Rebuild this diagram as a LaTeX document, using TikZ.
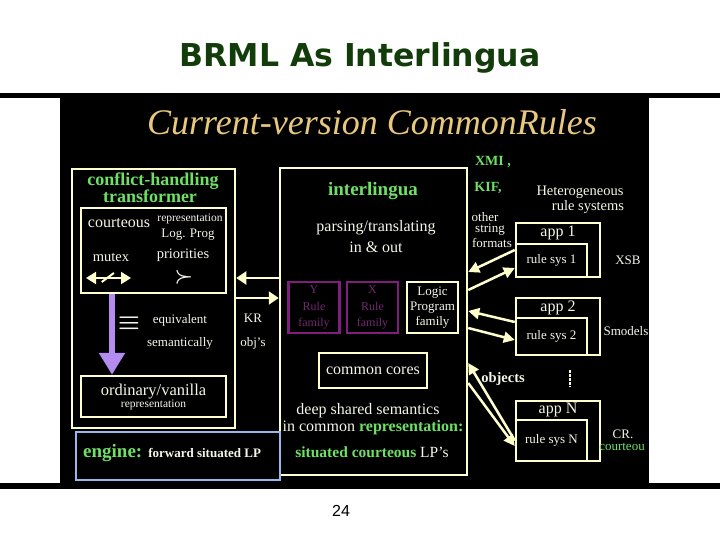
\documentclass[tikz,border=0pt]{standalone}
\usepackage{fontspec}
\setmainfont{Liberation Serif}
\newfontfamily\slidefont{DejaVu Sans}
\newfontfamily\numfont{Liberation Sans}
\usepackage{xcolor}
\definecolor{creamline}{RGB}{255,255,205}
\definecolor{creamtext}{RGB}{245,245,232}
\definecolor{leafgreen}{RGB}{110,225,100}
\definecolor{titlegold}{RGB}{232,200,125}
\definecolor{rulepurple}{RGB}{128,30,128}
\definecolor{rulepurpletext}{RGB}{115,40,115}
\definecolor{lavender}{RGB}{180,140,240}
\definecolor{skyblue}{RGB}{150,185,235}
\definecolor{slidegreen}{RGB}{18,60,10}
\usetikzlibrary{arrows.meta,calc}

\begin{document}
\begin{tikzpicture}[x=1pt, y=-1pt,
  wtxt/.style={text=creamtext, inner sep=0pt},
  gtxt/.style={text=leafgreen, inner sep=0pt},
  sz/.style={font=\fontsize{#1}{#1}\selectfont},
  crbox/.style={draw=creamline, line width=2.5pt, inner sep=0pt, text=creamtext},
  rulebox/.style={draw=rulepurple, line width=2.5pt, inner sep=0pt,
                  minimum width=51, minimum height=51, align=center,
                  text=rulepurpletext, font=\fontsize{12}{16.5}\selectfont},
  crarr/.style={draw=creamline, line width=2.5pt, -{Triangle[length=11pt, width=11pt]}},
  stripArr/.style={draw=creamline, line width=2pt, -{Triangle[length=10pt, width=13pt]}}
]

%% slide and picture frame
\useasboundingbox (0,0) rectangle (720,540);
\fill[white] (0,0) rectangle (720,540);
\fill[black] (0,93) rectangle (720,98);
\fill[black] (0,483) rectangle (720,489);
\fill[black] (60,97) rectangle (649,486);
\fill[white] (649,98) rectangle (654,483);

\node[text=slidegreen, font=\slidefont\bfseries\fontsize{31.5}{31.5}\selectfont] (slidetitle) at (360,58) {BRML As Interlingua};
\node[font=\numfont\fontsize{16}{16}\selectfont] (pagenum) at (341,511) {24};

\node[text=titlegold, inner sep=0pt, font=\fontsize{36}{36}\selectfont\itshape] (crtitle) at (372,122) {Current-version CommonRules};

%% boxes
\node[crbox, minimum width=163, minimum height=259] (trans)   at (153.5,298.5) {};
\node[crbox, minimum width=145, minimum height=85]  (transin) at (153.5,250.5) {};
\node[crbox, minimum width=145, minimum height=41, align=center] (vanilla) at (153.5,396.5)
  {\fontsize{16.5}{15}\selectfont ordinary/vanilla\\[0pt]\fontsize{11.5}{12}\selectfont representation};
\node[crbox, minimum width=187, minimum height=307] (interl)  at (373.5,321.5) {};
\node[draw=skyblue, line width=2.5pt, minimum width=204, minimum height=48] (engine) at (178,456) {};

\node[rulebox] (yrule) at (314,307.5) {Y\\Rule\\family};
\node[rulebox] (xrule) at (372.5,307.5) {X\\Rule\\family};
\node[crbox, minimum width=51, minimum height=51, align=center,
      font=\fontsize{13}{15}\selectfont] (logic) at (432.5,307.5) {Logic\\Program\\family};
\node[crbox, minimum width=108, minimum height=35, font=\fontsize{16}{16}\selectfont] (cores) at (373,370.5) {common cores};

\node[crbox, minimum width=84, minimum height=54] (app1) at (558,250) {};
\node[crbox, minimum width=71, minimum height=33, font=\fontsize{13}{13}\selectfont] (rs1) at (551.5,260.5) {rule sys 1};
\node[crbox, minimum width=84, minimum height=57] (app2) at (558,326.5) {};
\node[crbox, minimum width=71, minimum height=37, font=\fontsize{13}{13}\selectfont] (rs2) at (551.5,336.5) {rule sys 2};
\node[crbox, minimum width=84, minimum height=60] (appN) at (558,431) {};
\node[crbox, minimum width=71, minimum height=41, font=\fontsize{13}{13}\selectfont] (rsN) at (551.5,440.5) {rule sys N};

%% transformer texts
\node[gtxt, sz=18] (transT1) at (153,181) {\bfseries conflict-handling};
\node[gtxt, sz=18] (transT2) at (150,196) {\bfseries transformer};
\node[wtxt, sz=16]   (court) at (119,223) {courteous};
\node[wtxt, sz=11.5] (repr1) at (190,219) {representation};
\node[wtxt, sz=13]   (logp)  at (188,235) {Log. Prog};
\node[wtxt, sz=14.5] (mutex) at (111,257) {mutex};
\node[wtxt, sz=14.5] (prio)  at (183,255) {priorities};
\node[wtxt, font=\fontsize{20}{20}\selectfont\boldmath] (succ) at (184,277) {$\succ$};
\node[wtxt, font=\fontsize{24}{24}\selectfont\boldmath] (equiv) at (129,323) {$\equiv$};
\node[wtxt, sz=13] (eqv)  at (180,320) {equivalent};
\node[wtxt, sz=13] (sem)  at (180,343) {semantically};
\node[wtxt, sz=13] (kr)   at (253,318) {KR};
\node[wtxt, sz=13] (objs) at (253,343) {obj's};
\node[inner sep=0pt, anchor=west] (engtxt) at (83,453)
  {\fontsize{19}{19}\selectfont\bfseries\textcolor{leafgreen}{engine:}\hspace{6pt}\fontsize{13}{13}\selectfont\textcolor{creamtext}{forward situated LP}};

%% interlingua texts
\node[gtxt, sz=19] (iltitle) at (373,191) {\bfseries interlingua};
\node[wtxt, sz=16] (parse) at (376,228) {parsing/translating};
\node[wtxt, sz=16] (inout) at (376,247) {in \& out};
\node[wtxt, sz=16] (deep)  at (368,411) {deep shared semantics};
\node[wtxt, sz=16] (incom) at (373,428) {in common \textcolor{leafgreen}{\bfseries representation:}};
\node[wtxt, sz=15.5] (sitc) at (372,452) {\textcolor{leafgreen}{\bfseries situated courteous} LP's};

%% right side texts
\node[gtxt, sz=14] (xmi) at (493,162) {\bfseries XMI ,};
\node[gtxt, sz=14] (kif) at (488,188) {\bfseries KIF,};
\node[wtxt, sz=14.5] (het1) at (580,192) {Heterogeneous};
\node[wtxt, sz=14.5] (het2) at (588,207) {rule systems};
\node[wtxt, sz=13] (oth1) at (485,217) {other};
\node[wtxt, sz=13] (oth2) at (490,230) {string};
\node[wtxt, sz=13] (oth3) at (492,243) {formats};
\node[wtxt, sz=16] (app1t) at (558,233) {app 1};
\node[wtxt, sz=16] (app2t) at (558,308) {app 2};
\node[wtxt, sz=16] (appNt) at (558,410) {app N};
\node[wtxt, sz=13] (xsb)  at (628,260) {XSB};
\node[wtxt, sz=13] (smod) at (626,331) {Smodels};
\node[wtxt, sz=14.5] (objt) at (503,379) {\bfseries objects};
\node[wtxt, sz=13] (crp)  at (623,434) {CR.};
\node[gtxt, sz=13] (crc)  at (622,447) {courteou};

%% arrows
\draw[lavender, line width=6.5pt, -{Triangle[length=22pt, width=25pt]}]
  ([xshift=-41.5pt]transin.south) -- ([xshift=-41.5pt]vanilla.north);

\coordinate (mutexL) at (86,278);
\coordinate (mutexR) at (131,278);
\draw[creamline, line width=2pt, {Triangle[length=10pt, width=12pt]}-{Triangle[length=10pt, width=12pt]}] (mutexL) -- (mutexR);
\draw[creamline, line width=2pt] ($(mutexL)!0.35!(mutexR)+(0,4)$) -- ($(mutexL)!0.62!(mutexR)+(0,-5)$);

\draw[stripArr] ([yshift=43.5pt]interl.west) -- ([yshift=20.5pt]trans.east);
\draw[stripArr] ([yshift=0.5pt]trans.east) -- ([yshift=23.5pt]interl.west);

\draw[crarr] (app1.west) -- ([yshift=49.5pt]interl.east);
\draw[crarr] ([yshift=31.5pt]interl.east) -- ([yshift=-7.5pt]rs1.west);
\draw[crarr] ([yshift=4.5pt]app2.west) -- ([yshift=10.5pt]interl.east);
\draw[crarr] ([yshift=-6.5pt]interl.east) -- ([yshift=-3.5pt]rs2.west);
\draw[crarr] (rsN.west) -- ([yshift=-41.5pt]interl.east);
\draw[crarr] ([yshift=-61.5pt]interl.east) -- ([yshift=-5.5pt]rsN.west);

\coordinate (dotsT) at (570,370);
\coordinate (dotsB) at (570,387);
\draw[creamline, line width=2.5pt, dash pattern=on 2.5pt off 1.5pt] (dotsT) -- (dotsB);

\end{tikzpicture}
\end{document}
